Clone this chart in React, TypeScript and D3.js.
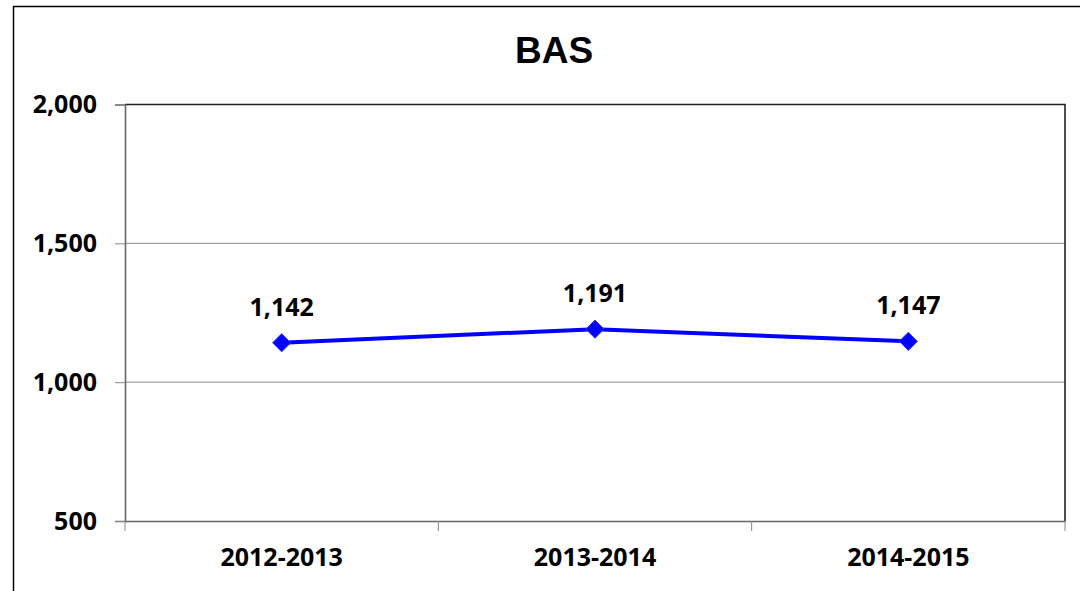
import * as d3 from "d3";
import React, { useEffect, useRef } from "react";

const categories = ["2012-2013", "2013-2014", "2014-2015"];
const values = [1142, 1191, 1147];
const yTicks = [500, 1000, 1500, 2000];

export default function App() {
  const ref = useRef<SVGSVGElement>(null);

  useEffect(() => {
    const width = 1080,
      height = 591;
    const left = 125,
      right = 1065,
      top = 104.5,
      bottom = 521;
    const font = "'Open Sans', Lato, sans-serif";

    const svg = d3.select(ref.current);
    svg.selectAll("*").remove();

    svg.append("rect")
      .attr("width", width)
      .attr("height", height)
      .attr("fill", "#fff");

    // outer frame
    svg.append("rect")
      .attr("x", 13.5)
      .attr("y", 6.5)
      .attr("width", 1100)
      .attr("height", 600)
      .attr("fill", "none")
      .attr("stroke", "#000")
      .attr("stroke-width", 1.5);

    const x = d3.scaleBand().domain(categories).range([left, right]);
    const y = d3.scaleLinear().domain([500, 2000]).range([bottom, top]);

    // gridlines
    svg.append("g")
      .selectAll("line")
      .data(yTicks.filter(t => t > 500 && t < 2000))
      .join("line")
      .attr("x1", left)
      .attr("x2", right)
      .attr("y1", d => y(d))
      .attr("y2", d => y(d))
      .attr("stroke", "#8c8c8c")
      .attr("stroke-width", 1);

    // plot border top/right
    svg.append("path")
      .attr("d", `M${left},${top}H${right}V${bottom}`)
      .attr("fill", "none")
      .attr("stroke", "#222")
      .attr("stroke-width", 1.6);

    // y axis
    const yAxis = svg.append("g")
      .attr("transform", `translate(${left},0)`)
      .call(d3.axisLeft(y).tickValues(yTicks).tickSize(10).tickPadding(18)
        .tickFormat(d => d3.format(",")(d as number)));
    yAxis.select(".domain").attr("stroke", "#666").attr("stroke-width", 1.6);
    yAxis.selectAll(".tick line").attr("stroke", "#888");
    yAxis.selectAll("text")
      .attr("fill", "#000")
      .attr("font-family", font)
      .attr("font-weight", "bold")
      .attr("font-size", 25);

    // x axis
    const xAxis = svg.append("g")
      .attr("transform", `translate(0,${bottom})`)
      .call(d3.axisBottom(x).tickSize(0).tickPadding(27));
    xAxis.select(".domain").attr("stroke", "#666").attr("stroke-width", 1.6);
    xAxis.selectAll("text")
      .attr("fill", "#000")
      .attr("font-family", font)
      .attr("font-weight", "bold")
      .attr("font-size", 25);

    // x tick marks at band boundaries
    const bounds = [...categories.map(c => x(c) as number), right];
    svg.append("g")
      .selectAll("line")
      .data(bounds)
      .join("line")
      .attr("x1", d => d)
      .attr("x2", d => d)
      .attr("y1", bottom)
      .attr("y2", bottom + 10)
      .attr("stroke", "#888");

    const cx = (c: string) => (x(c) as number) + x.bandwidth() / 2;

    const line = d3.line<number>()
      .x((_, i) => cx(categories[i]))
      .y(d => y(d));

    svg.append("path")
      .datum(values)
      .attr("d", line)
      .attr("fill", "none")
      .attr("stroke", "#0000ff")
      .attr("stroke-width", 4);

    svg.append("g")
      .selectAll("path")
      .data(values)
      .join("path")
      .attr("d", d3.symbol(d3.symbolDiamond2, 210))
      .attr("transform", (d, i) => `translate(${cx(categories[i])},${y(d)})`)
      .attr("fill", "#0000ff")
      .attr("stroke", "#3333ff")
      .attr("stroke-width", 1);

    svg.append("g")
      .selectAll("text")
      .data(values)
      .join("text")
      .attr("x", (d, i) => cx(categories[i]))
      .attr("y", d => y(d) - 27)
      .attr("text-anchor", "middle")
      .attr("font-family", font)
      .attr("font-weight", "bold")
      .attr("font-size", 25)
      .attr("fill", "#000")
      .text(d => d3.format(",")(d));

    svg.append("text")
      .attr("x", 554)
      .attr("y", 63)
      .attr("text-anchor", "middle")
      .attr("font-family", "'Liberation Sans', Arial, sans-serif")
      .attr("font-weight", "bold")
      .attr("font-size", 37)
      .attr("fill", "#000")
      .text("BAS");
  }, []);

  return (
    <svg
      ref={ref}
      width={1080}
      height={591}
      style={{ position: "absolute", left: 0, top: 0, display: "block" }}
    />
  );
}
